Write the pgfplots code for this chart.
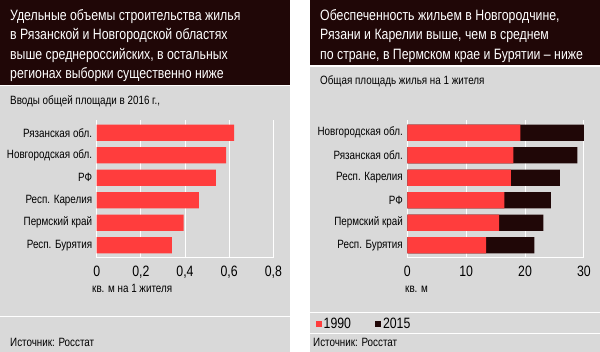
\documentclass[border=0pt]{standalone}
\usepackage{pgfplots}
\pgfplotsset{compat=1.18}
\usepackage{fontspec}
\setmainfont{Liberation Sans}[FakeStretch=0.82]
\definecolor{dark}{HTML}{200707}
\definecolor{bg}{HTML}{D9D9D9}
\definecolor{myred}{HTML}{FF3D3D}
\newcommand{\fs}[1]{\fontsize{#1}{#1}\selectfont}
\pgfplotsset{sqlegend/.style={legend image code/.code={\fill[##1] (0pt,-3pt) rectangle (6pt,3pt);}},
  common/.style={scale only axis, width=176.6pt, height=138pt, xbar, bar width=16.3pt, bar shift=0pt,
    ymin=-0.57, ymax=5.57, y dir=reverse, ytick={0,...,5},
    xmajorgrids, grid style={white, line width=1pt},
    axis x line*=bottom, axis y line*=left,
    x axis line style={draw=white, line width=1pt, -}, y axis line style={draw=none},
    major tick length=0pt,
    yticklabel style={font=\fs{12}, xshift=-1pt},
    xticklabel style={font=\fs{15}, yshift=-4pt, /pgf/number format/assume math mode=true},
    clip=false}}
\begin{document}
\begin{tikzpicture}
\begin{scope}[x=1pt,y=1pt]
\useasboundingbox (0,0) rectangle (600,352);
\fill[white] (0,0) rectangle (600,352);
\fill[bg] (0,0) rectangle (290,266);
\fill[dark] (0,267) rectangle (290,352);
\fill[bg] (310,0) rectangle (600,285);
\fill[dark] (310,287) rectangle (600,352);
\draw[white, line width=1pt] (0,35.5) -- (290,35.5);
\draw[white, line width=1pt] (310,39) -- (600,39);
\draw[white, line width=1pt] (310,18.5) -- (600,18.5);
% headers
\begin{scope}[every node/.style={anchor=base west, inner sep=0, text=white, font=\fs{15}}]
\node at (10,331.3) {Удельные объемы строительства жилья};
\node at (10,312) {в Рязанской и Новгородской областях};
\node at (10,292.8) {выше среднероссийских, в остальных};
\node at (10,273.6) {регионах выборки существенно ниже};
\node at (320,331.3) {Обеспеченность жильем в Новгородчине,};
\node at (320,312) {Рязани и Карелии выше, чем в среднем};
\node at (320,292.8) {по стране, в Пермском крае и Бурятии -- ниже};
\end{scope}
\begin{scope}[every node/.style={anchor=base west, inner sep=0, font=\fs{12}}]
\node at (10,247) {Вводы общей площади в 2016 г.,};
\node at (320,267) {Общая площадь жилья на 1 жителя};
\node at (92,59) {кв. м на 1 жителя};
\node at (405,59) {кв. м};
\node at (10,5.5) {Источник: Росстат};
\node at (313,5.5) {Источник: Росстат};
\end{scope}
\end{scope}

\begin{axis}[common, at={(96.7pt,94pt)}, anchor=south west,
  xmin=0, xmax=0.8, xtick={0,0.2,0.4,0.6,0.8},
  xticklabels={0,{0,2},{0,4},{0,6},{0,8}},
  yticklabels={Рязанская обл.,Новгородская обл.,РФ,Респ. Карелия,Пермский край,Респ. Бурятия}]
\addplot[fill=myred, draw=none] coordinates {(0.623,0) (0.586,1) (0.540,2) (0.463,3) (0.394,4) (0.340,5)};
\end{axis}

\begin{axis}[common, at={(407.3pt,94pt)}, anchor=south west,
  xmin=0, xmax=30, xtick={0,10,20,30},
  yticklabels={Новгородская обл.,Рязанская обл.,Респ. Карелия,РФ,Пермский край,Респ. Бурятия},
  legend style={at={(axis description cs:-0.52,-0.478)}, anchor=west, draw=none, fill=none,
    legend columns=2, font=\fs{15}, inner sep=0pt,
    /tikz/every even column/.append style={column sep=22pt}}]
\addplot[fill=dark, draw=none, forget plot] coordinates {(30.0,0) (28.9,1) (25.9,2) (24.4,3) (23.1,4) (21.6,5)};
\addplot[fill=myred, draw=none, sqlegend] coordinates {(19.2,0) (18.0,1) (17.6,2) (16.5,3) (15.6,4) (13.4,5)};
\addlegendentry{1990}
\addlegendimage{fill=dark, draw=none, sqlegend}
\addlegendentry{2015}
\end{axis}
\end{tikzpicture}
\end{document}
